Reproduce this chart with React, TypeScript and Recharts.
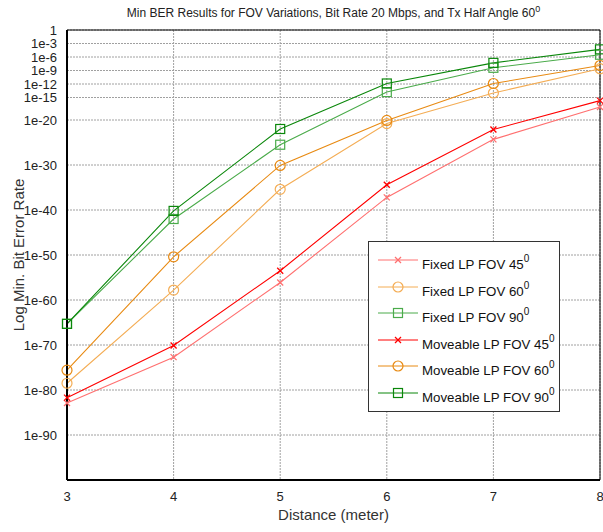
import React from 'react';
import {
  LineChart,
  Line,
  XAxis,
  YAxis,
  CartesianGrid,
  ReferenceArea,
} from 'recharts';

const distances = [3, 4, 5, 6, 7, 8];

// minimum BER per distance
const fixed45 = [1.3e-83, 2e-73, 8e-57, 6.3e-38, 5e-25, 8e-18];
const moveable45 = [2e-82, 8e-71, 3.2e-54, 4e-35, 8e-23, 2e-16];
const fixed60 = [3.2e-79, 1.6e-58, 4e-36, 1.6e-21, 1e-14, 2.5e-9];
const moveable60 = [2.5e-76, 4e-51, 8e-31, 8e-21, 1.3e-12, 1.3e-8];
const fixed90 = [5e-66, 1e-42, 3.2e-26, 1.6e-14, 4e-9, 3.2e-6];
const moveable90 = [5e-66, 6.3e-41, 1e-22, 1.3e-12, 5e-8, 5e-5];

const yTicks = [
  1e-90, 1e-80, 1e-70, 1e-60, 1e-50, 1e-40, 1e-30, 1e-20, 1e-15, 1e-12, 1e-9,
  1e-6, 1e-3, 1,
];

const data = distances.map((d, i) => ({
  distance: d,
  fixed45: fixed45[i],
  moveable45: moveable45[i],
  fixed60: fixed60[i],
  moveable60: moveable60[i],
  fixed90: fixed90[i],
  moveable90: moveable90[i],
}));

type Marker = 'x' | 'o' | 's';

const series: { key: string; name: string; angle: string; color: string; marker: Marker }[] = [
  { key: 'fixed45', name: 'Fixed LP FOV ', angle: '45', color: '#ff7070', marker: 'x' },
  { key: 'fixed60', name: 'Fixed LP FOV ', angle: '60', color: '#f4ad55', marker: 'o' },
  { key: 'fixed90', name: 'Fixed LP FOV ', angle: '90', color: '#4aab4a', marker: 's' },
  { key: 'moveable45', name: 'Moveable LP FOV ', angle: '45', color: '#ff0000', marker: 'x' },
  { key: 'moveable60', name: 'Moveable LP FOV ', angle: '60', color: '#e88a12', marker: 'o' },
  { key: 'moveable90', name: 'Moveable LP FOV ', angle: '90', color: '#0a870a', marker: 's' },
];

const font = '"Liberation Sans", Arial, sans-serif';

function markerShape(marker: Marker, color: string, cx: number, cy: number, key?: React.Key) {
  if (marker === 'x') {
    return (
      <g key={key} stroke={color} strokeWidth={1.3}>
        <line x1={cx - 3} y1={cy - 3} x2={cx + 3} y2={cy + 3} />
        <line x1={cx - 3} y1={cy + 3} x2={cx + 3} y2={cy - 3} />
      </g>
    );
  }
  if (marker === 'o') {
    return <circle key={key} cx={cx} cy={cy} r={5} fill="none" stroke={color} strokeWidth={1.2} />;
  }
  return (
    <rect key={key} x={cx - 4.5} y={cy - 4.5} width={9} height={9} fill="none" stroke={color} strokeWidth={1.2} />
  );
}

function makeDot(marker: Marker, color: string) {
  return (props: any) => {
    const { cx, cy, index } = props;
    if (cx == null || cy == null) return <g key={index} />;
    return markerShape(marker, color, cx, cy, index);
  };
}

const formatY = (v: number) => (v === 1 ? '1' : `1e${Math.round(Math.log10(v))}`);

// legend box drawn over the plot area, lower right
function LegendBox() {
  return (
    <div
      style={{
        position: 'absolute',
        left: 368,
        top: 241,
        background: '#fff',
        border: '1px solid #333',
        padding: '5px 4px 5px 8px',
        fontFamily: font,
        fontSize: 13.3,
        color: '#111',
        width: 192,
        boxSizing: 'border-box',
      }}
    >
      {series.map((s) => (
        <div key={s.key} style={{ display: 'flex', alignItems: 'center', height: 26.5 }}>
          <svg width={42} height={14} style={{ marginRight: 3, flexShrink: 0 }}>
            <line x1={1} y1={7} x2={41} y2={7} stroke={s.color} strokeWidth={1} />
            {markerShape(s.marker, s.color, 21, 7)}
          </svg>
          <span style={{ whiteSpace: 'nowrap', marginTop: 5 }}>
            {s.name}
            {s.angle}
            <sup style={{ fontSize: 10, verticalAlign: 7 }}>0</sup>
          </span>
        </div>
      ))}
    </div>
  );
}

export default function App() {
  return (
    <div
      style={{
        position: 'fixed',
        left: 0,
        top: 0,
        width: 603,
        height: 532,
        background: '#fff',
        overflow: 'hidden',
      }}
    >
      <div
        style={{
          position: 'absolute',
          top: 4,
          left: 67,
          width: 533,
          textAlign: 'center',
          fontFamily: '"Liberation Sans Narrow", "Arial Narrow", ' + font,
          fontSize: 12,
          color: '#222',
          zIndex: 1,
        }}
      >
        Min BER Results for FOV Variations, Bit Rate 20 Mbps, and Tx Half Angle 60
        <sup style={{ fontSize: 9, verticalAlign: 5, fontFamily: font }}>0</sup>
      </div>
      <LineChart
        width={603}
        height={532}
        data={data}
        margin={{ top: 30, right: 3, bottom: 0, left: 0 }}
      >
        <CartesianGrid stroke="#a0a0a0" strokeDasharray="2 1" />
        <XAxis
          dataKey="distance"
          type="number"
          domain={[3, 8]}
          ticks={distances}
          interval={0}
          height={52}
          axisLine={{ stroke: '#000', strokeWidth: 2 }}
          tickLine={false}
          tick={{ fill: '#222', fontSize: 13, fontFamily: font }}
          tickMargin={6}
          label={{
            value: 'Distance (meter)',
            position: 'insideBottom',
            offset: 12,
            style: { fill: '#333', fontSize: 15, fontFamily: font },
          }}
        />
        <YAxis
          scale="log"
          type="number"
          domain={[1e-100, 1]}
          ticks={yTicks}
          interval={0}
          allowDataOverflow
          width={67}
          axisLine={{ stroke: '#000', strokeWidth: 2 }}
          tickLine={false}
          tickFormatter={formatY}
          tick={{ fill: '#222', fontSize: 13, fontFamily: font }}
          tickMargin={4}
          label={{
            value: 'Log Min. Bit Error Rate',
            angle: -90,
            position: 'insideLeft',
            offset: 19,
            style: { fill: '#333', fontSize: 15, fontFamily: font, textAnchor: 'middle' },
          }}
        />
        <ReferenceArea x1={3} x2={8} y1={1e-100} y2={1} fill="none" stroke="#000" strokeWidth={1} />
        {series.map((s) => (
          <Line
            key={s.key}
            dataKey={s.key}
            name={s.name + s.angle}
            type="linear"
            stroke={s.color}
            strokeWidth={1.1}
            dot={makeDot(s.marker, s.color)}
            activeDot={false}
            isAnimationActive={false}
          />
        ))}
      </LineChart>
      <LegendBox />
    </div>
  );
}
